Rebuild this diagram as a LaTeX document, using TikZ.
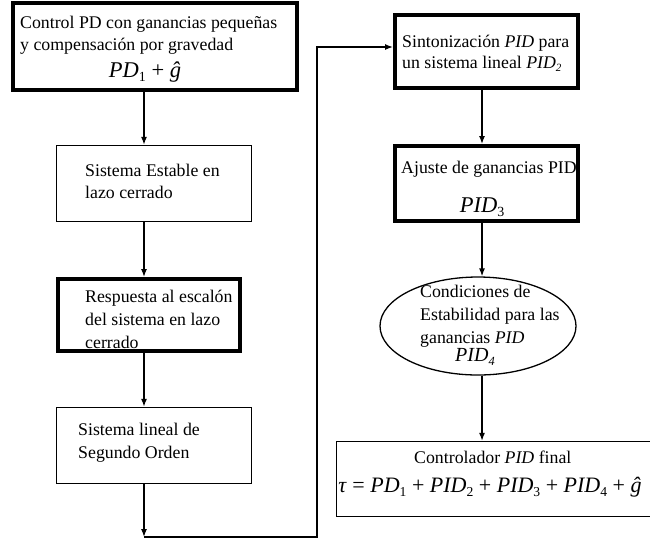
\documentclass[tikz,border=0pt]{standalone}
\usepackage{fontspec}
\setmainfont{Liberation Serif}
\usetikzlibrary{arrows.meta,shapes.geometric}
% lowered, reduced index for the gain names
\newcommand{\idx}[1]{\raisebox{-0.22em}{\scalebox{0.62}{#1}}}

\begin{document}
\begin{tikzpicture}[x=1pt,y=-1pt,
  thinbox/.style={draw,rectangle,line width=1.3pt,inner sep=0pt},
  thickbox/.style={draw,rectangle,line width=4pt,inner sep=0pt},
  oval/.style={draw,ellipse,line width=1.3pt,inner sep=0pt},
  txt/.style={anchor=base west,inner sep=0pt,font=\fontsize{17.8}{22}\selectfont},
  eq/.style={anchor=base,inner sep=0pt,font=\fontsize{22.5}{27}\selectfont},
  flow/.style={line width=1.3pt,-{Latex[length=8pt,width=6pt]}}
]
\useasboundingbox (0,0) rectangle (650,542);

% boxes
\node[thickbox,minimum width=284pt,minimum height=87pt] (b1) at (155,46.5) {};
\node[thinbox,minimum width=195pt,minimum height=76pt] (b2) at (154,183.5) {};
\node[thickbox,minimum width=182pt,minimum height=72pt] (b3) at (149,315) {};
\node[thinbox,minimum width=195pt,minimum height=76pt] (b4) at (154,445.5) {};
\node[thickbox,minimum width=183pt,minimum height=73pt] (b5) at (486.5,51.5) {};
\node[thickbox,minimum width=183pt,minimum height=75pt] (b6) at (486.5,183.5) {};
\node[oval,minimum width=196pt,minimum height=98pt] (e) at (478,326) {};
\node[thinbox,minimum width=320pt,minimum height=75pt] (b7) at (496.5,479) {};

% texts
\node[txt] (t1a) at (20,28) {Control PD con ganancias pequeñas};
\node[txt] (t1b) at (20,50) {y compensación por gravedad};
\node[eq] (t1c) at (145,77) {\textit{PD}\idx{1} + \textit{ĝ}};

\node[txt] (t2a) at (85,176) {Sistema Estable en};
\node[txt] (t2b) at (85,198) {lazo cerrado};

\node[txt] (t3a) at (85,302) {Respuesta al escalón};
\node[txt] (t3b) at (85,325) {del sistema en lazo};
\node[txt] (t3c) at (85,348) {cerrado};

\node[txt] (t4a) at (78,435) {Sistema lineal de};
\node[txt] (t4b) at (78,458) {Segundo Orden};

\node[txt] (t5a) at (402,47) {Sintonización \textit{PID} para};
\node[txt] (t5b) at (402,68) {un sistema lineal \textit{PID}\idx{\textit{2}}};

\node[txt] (t6a) at (401,173) {Ajuste de ganancias PID};
\node[eq] (t6b) at (482,212) {\textit{PID}\idx{3}};

\node[txt] (tea) at (420,297) {Condiciones de};
\node[txt] (teb) at (420,320) {Estabilidad para las};
\node[txt] (tec) at (420,343) {ganancias \textit{PID}};
\node[txt,font=\fontsize{20}{24}\selectfont] (ted) at (455,361) {\textit{PID}\idx{\textit{4}}};

\node[txt] (t7a) at (414,463) {Controlador \textit{PID} final};
\node[eq,font=\fontsize{22}{27}\selectfont] (t7b) at (490,492) {\textit{τ} = \textit{PD}\idx{1} + \textit{PID}\idx{2} + \textit{PID}\idx{3} + \textit{PID}\idx{4} + \textit{ĝ}};

% connector columns and the return path
\coordinate (colL) at (144,0);
\coordinate (colR) at (482,0);
\coordinate (turn) at (144,537);
\coordinate (loopTop) at (317,47);

\draw[flow] (b1.south -| colL) -- (b2.north -| colL);
\draw[flow] (b2.south -| colL) -- (b3.north -| colL);
\draw[flow] (b3.south -| colL) -- (b4.north -| colL);
\draw[flow] (b4.south -| colL) -- (turn);
\draw[flow] (turn) -| (loopTop) -- (b5.west |- loopTop);
\draw[flow] (b5.south -| colR) -- (b6.north -| colR);
\draw[flow] (b6.south -| colR) -- (e.north -| colR);
\draw[flow] (e.south -| colR) -- (b7.north -| colR);
\end{tikzpicture}
\end{document}
